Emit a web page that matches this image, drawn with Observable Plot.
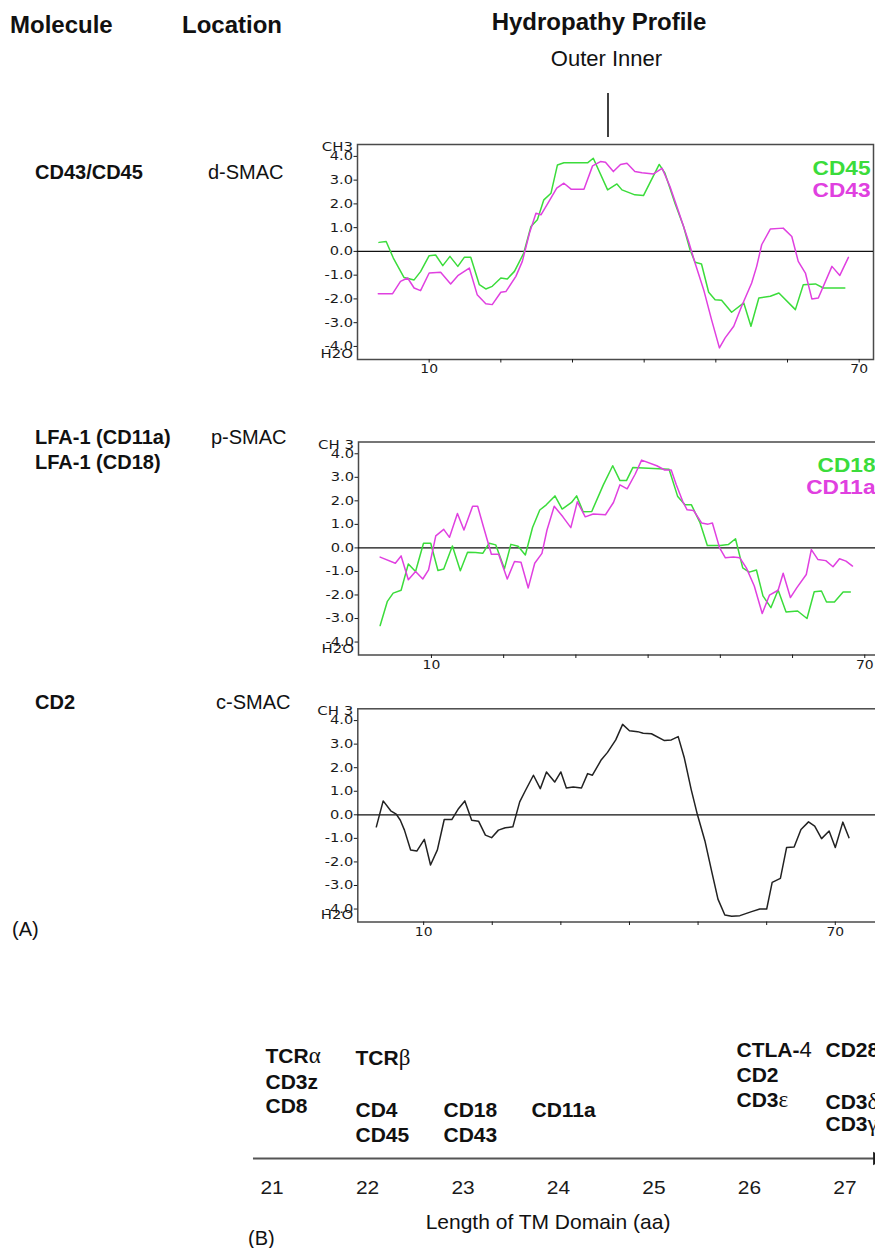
<!DOCTYPE html>
<html><head><meta charset="utf-8">
<script src="https://cdn.jsdelivr.net/npm/d3@7"></script>
<script src="https://cdn.jsdelivr.net/npm/@observablehq/plot@0.6"></script>
<style>
html,body{margin:0;padding:0;background:#fff;}
#page{position:relative;width:875px;height:1248px;overflow:hidden;font-family:"Liberation Sans",Arial,sans-serif;color:#111;}
.abs{position:absolute;}
</style></head><body><div id="page"></div>
<script>
// ---------- DATA ----------
// Panel 1: CD43 / CD45 hydropathy (residue, value)
const cd45Res = [3,4,5,6.5,7.9,8.8,10,10.9,11.9,12.9,14,14.9,15.8,17,17.9,18.8,20,20.9,21.9,23.2,24.2,25.1,26,27,27.9,28.8,32.1,32.9,34.9,36.2,36.9,38.7,39.9,42.1,42.9,44.3,45.5,46.4,47.1,48,49,49.9,50.8,52.2,53.9,54.9,56,57.6,58.8,61.1,62.2,63.9,65,68];
const cd45Val = [0.38,0.42,-0.28,-1.1,-1.2,-0.85,-0.18,-0.15,-0.6,-0.21,-0.63,-0.25,-0.25,-1.4,-1.58,-1.47,-1.12,-1.16,-0.84,-0.07,1.05,1.33,2.17,2.45,3.64,3.73,3.73,3.92,2.59,2.84,2.59,2.38,2.35,3.66,3.29,2.03,1.05,0.07,-0.46,-0.53,-1.72,-2.03,-2.06,-2.56,-2.17,-3.15,-1.96,-1.89,-1.75,-2.45,-1.40,-1.37,-1.54,-1.54];
const cd43Res = [2.9,4.9,6,7,7.9,8.8,10,11.6,13,14,15.6,16.7,17.9,18.8,20,20.7,22.1,23,24,24.9,25.6,26.7,27.8,28.8,29.8,31.6,32.8,33.9,34.6,35.7,36.7,37.6,38.7,39.7,41.3,42.5,43.6,44.8,46.2,47.1,48.3,49.4,50.5,51.3,52.5,53.6,55,55.7,56.4,57.6,59.4,60.6,61.5,62.5,63.4,64.3,66.2,67.3,68.5];
const cd43Val = [-1.78,-1.78,-1.26,-1.12,-1.54,-1.65,-0.91,-0.88,-1.37,-1.02,-0.7,-1.82,-2.2,-2.24,-1.72,-1.69,-1.05,-0.42,0.77,1.61,1.54,2.1,2.66,2.87,2.62,2.62,3.6,3.78,3.75,3.36,3.66,3.71,3.36,3.31,3.26,3.5,2.73,1.68,0.42,-0.49,-1.61,-2.87,-4.06,-3.64,-3.15,-2.31,-1.33,-0.63,0.28,0.94,0.98,0.63,-0.42,-0.91,-2.0,-1.96,-0.63,-1.01,-0.25];
// Panel 2: LFA-1 CD18 / CD11a
const cd18Res = [2.9,3.9,4.7,5.8,6.8,7.8,8.9,9.9,10.9,11.7,12.9,14,15,16.1,17.1,18,18.9,20.1,21,22,23,24,25,25.9,27.1,28.1,29.4,30.1,31,32.2,33.8,35.1,36.1,37,37.9,38.6,42.9,44.1,45.1,46,47.2,48.2,50,51.1,52.1,53.1,54,55,55.9,57,58,59.1,60.7,62,63,64,64.7,65.8,67,68];
const cd18Val = [-3.3,-2.27,-1.92,-1.8,-0.68,-1.0,0.2,0.2,-0.96,-0.9,0.08,-0.97,-0.18,-0.2,-0.23,0.2,0.13,-0.89,0.15,0.07,-0.3,0.87,1.61,1.83,2.21,1.65,1.93,2.21,1.54,1.55,2.68,3.49,2.86,2.86,3.42,3.41,3.34,2.18,1.83,1.83,1.06,0.1,0.1,0.14,0.39,-0.85,-1.03,-0.94,-2.04,-2.54,-1.79,-2.72,-2.68,-3.0,-1.86,-1.83,-2.3,-2.3,-1.87,-1.87];
const cd11aRes = [2.9,5,5.8,6.8,7.8,8.8,9.6,10.6,11.7,12.5,13.6,14.5,15.7,16.4,17.2,18.3,19.3,20.5,21.5,22.4,23.4,24.3,25.3,26,27,28.2,29.3,30.2,31.3,32.4,34.1,35.2,36.1,37.1,38.2,39.1,41.2,42.3,43.2,43.9,44.8,45.4,46.3,47.4,48.3,48.9,49.9,50.7,51.8,52.7,53.6,54.7,55.8,56.8,58,58.7,59.7,60.6,61.9,62.6,63.5,64.6,65.6,66.5,67.4,68.3];
const cd11aVal = [-0.39,-0.65,-0.34,-1.35,-1.0,-1.32,-0.93,0.51,0.79,0.45,1.46,0.76,1.77,1.77,0.9,-0.27,-0.27,-1.32,-0.58,-0.61,-1.7,-0.65,-0.23,0.76,1.77,1.32,0.86,1.96,1.32,1.44,1.41,1.93,2.68,2.51,3.13,3.73,3.49,3.31,3.31,2.68,1.97,1.62,1.59,1.06,1.01,1.06,0,-0.42,-0.39,-0.42,-0.85,-1.62,-2.79,-2.01,-1.8,-1.08,-2.11,-1.69,-1.13,-0.07,-0.49,-0.54,-0.8,-0.46,-0.56,-0.77];
// Panel 3: CD2
const cd2Res = [3.1,4.1,5.2,6,6.6,7.2,8.1,9,10.1,11,12,13,14.1,15.1,16,17,18,19,19.9,20.9,21.9,23,24,24.8,26,27,27.9,29.1,30,30.8,31.8,33,33.9,34.6,35.9,36.8,38,39,40,41.2,42,43.2,45.1,46.1,47.1,48,49,49.9,51,52,52.9,53.9,54.9,56.1,57.8,59,60,60.8,62,62.9,64,65,66.1,67,68,69.1,70,71.1,72];
const cd2Val = [-0.51,0.59,0.17,0.03,-0.23,-0.65,-1.49,-1.54,-1.04,-2.13,-1.49,-0.2,-0.2,0.27,0.59,-0.23,-0.27,-0.86,-0.97,-0.65,-0.55,-0.51,0.55,1.01,1.68,1.11,1.82,1.39,1.82,1.14,1.18,1.14,1.75,1.68,2.34,2.65,3.18,3.84,3.57,3.53,3.46,3.44,3.15,3.18,3.32,2.41,1.07,0.01,-1.11,-2.42,-3.58,-4.25,-4.31,-4.28,-4.11,-4.0,-4.0,-2.87,-2.7,-1.39,-1.37,-0.62,-0.3,-0.48,-1.01,-0.69,-1.39,-0.31,-0.97];
// Axis ticks
const yTicks = [-4,-3,-2,-1,0,1,2,3,4];
const xTicks = [10,20,30,40,50,60,70];
const xLabeled = [10,70];
// Panel B: TM domain lengths
const tmLength   = [21,21,21,22,22,22,23,23,24,26,26,26,27,27,27];
const tmMolecule = ["TCRα","CD3z","CD8","TCRβ","CD4","CD45","CD18","CD43","CD11a","CTLA-4","CD2","CD3ε","CD28","CD3δ","CD3γ"];
const tmTicks = [21,22,23,24,25,26,27];

// ---------- LAYOUT ----------
const GREEN = "#3bdc3b", MAGENTA = "#e040e0";
const page = document.getElementById("page");
const NS = "http://www.w3.org/2000/svg";
const table = (rs, vs) => rs.map((r, i) => ({res: r, val: vs[i]}));

function stretchWhere(svg, pred, sx) {
  svg.querySelectorAll("text").forEach(t => {
    if (pred(t)) t.setAttribute("transform", (t.getAttribute("transform") || "") + ` scale(${sx},1)`);
  });
}
const inGroup = (t, name) => t.parentNode && t.parentNode.getAttribute && t.parentNode.getAttribute("aria-label") === name;

function hydroPanel(o) {
  const legendNames = (o.legend || []).map(l => l.name);
  const marks = [
    Plot.frame({stroke: "#4a4a4a", strokeWidth: 1.5}),
    Plot.ruleY([0], {stroke: "#111", strokeWidth: 1.3}),
    Plot.axisY({ticks: yTicks, tickFormat: d => d.toFixed(1), tickSize: 3.5, tickPadding: 1, label: null, fontSize: 12}),
    Plot.axisX({ticks: xTicks, tickFormat: d => xLabeled.includes(d) ? String(d) : "", tickSize: 3.5, tickPadding: 1.5, label: null, fontSize: 12}),
    ...o.series.map(s => Plot.line(s.data, {x: "res", y: "val", stroke: s.color, strokeWidth: 1.5, strokeLinejoin: "round"})),
    Plot.text([o.ch3], {text: d => d, frameAnchor: "top-left", textAnchor: "end", dx: -4.5, dy: o.ch3dy, fontSize: 13}),
    Plot.text(["H2O"], {text: d => d, frameAnchor: "bottom-left", textAnchor: "end", dx: -4.5, dy: o.h2ody, fontSize: 13})
  ];
  (o.legend || []).forEach(l => marks.push(
    Plot.text([l.name], {text: d => d, frameAnchor: "top-right", textAnchor: "end", dx: -3, dy: l.dy, fill: l.color, fontWeight: "bold", fontSize: 21, fontFamily: "Liberation Sans, Arial, sans-serif"})
  ));
  const svg = Plot.plot({
    width: o.box.w, height: o.box.h,
    marginLeft: o.box.ml, marginRight: o.box.mr, marginTop: o.box.mt, marginBottom: o.box.mb,
    style: {fontFamily: "DejaVu Sans, sans-serif", fontSize: "12px", background: "transparent", color: "#1a1a1a", overflow: "visible"},
    x: {domain: o.xDomain},
    y: {domain: [-4.55, 4.5]},
    marks
  });
  stretchWhere(svg, t => inGroup(t, "y-axis tick label"), 1.22);
  stretchWhere(svg, t => t.textContent === o.ch3 || t.textContent === "H2O", 1.15);
  stretchWhere(svg, t => inGroup(t, "x-axis tick label"), 1.16);
  stretchWhere(svg, t => legendNames.includes(t.textContent), 1.08);
  svg.classList.add("abs");
  svg.style.left = o.box.x + "px";
  svg.style.top = o.box.y + "px";
  page.appendChild(svg);
}

// Overlay texts (headers, row labels)
const overlay = document.createElementNS(NS, "svg");
overlay.setAttribute("width", 875); overlay.setAttribute("height", 1248);
overlay.classList.add("abs"); overlay.style.left = "0px"; overlay.style.top = "0px";
page.appendChild(overlay);
function label(txt, x, y, size, bold, anchor) {
  const t = document.createElementNS(NS, "text");
  t.setAttribute("x", x); t.setAttribute("y", y);
  t.setAttribute("font-size", size);
  t.setAttribute("font-family", "Liberation Sans, Arial, sans-serif");
  if (bold) t.setAttribute("font-weight", "bold");
  if (anchor) t.setAttribute("text-anchor", anchor);
  t.setAttribute("fill", "#111");
  t.textContent = txt;
  overlay.appendChild(t);
}
label("Molecule", 10, 33, 24, true);
label("Location", 182, 33, 24, true);
label("Hydropathy Profile", 599, 30, 24, true, "middle");
label("Outer Inner", 606.5, 66, 22, false, "middle");
const vline = document.createElementNS(NS, "line");
vline.setAttribute("x1", 608); vline.setAttribute("x2", 608);
vline.setAttribute("y1", 93); vline.setAttribute("y2", 137);
vline.setAttribute("stroke", "#111"); vline.setAttribute("stroke-width", 1.6);
overlay.appendChild(vline);
label("CD43/CD45", 35, 179, 20, true);
label("d-SMAC", 208, 179, 20, false);
label("LFA-1 (CD11a)", 35, 444, 20, true);
label("LFA-1 (CD18)", 35, 469, 20, true);
label("p-SMAC", 211, 444, 20, false);
label("CD2", 35, 709, 20, true);
label("c-SMAC", 216, 709, 20, false);
label("(A)", 12, 936, 20, false);
label("(B)", 248, 1245, 20, false);

// Panels (A)
hydroPanel({
  box: {x: 300, y: 120, w: 580, h: 262, ml: 57, mr: 7, mt: 24, mb: 23},
  xDomain: [0, 72],
  series: [{data: table(cd45Res, cd45Val), color: GREEN}, {data: table(cd43Res, cd43Val), color: MAGENTA}],
  ch3: "CH3", ch3dy: -3, h2ody: -2,
  legend: [{name: "CD45", color: GREEN, dy: 15.5}, {name: "CD43", color: MAGENTA, dy: 37.5}]
});
hydroPanel({
  box: {x: 300, y: 418, w: 582, h: 258, ml: 58, mr: 4, mt: 23.5, mb: 21.5},
  xDomain: [-0.1, 71.9],
  series: [{data: table(cd18Res, cd18Val), color: GREEN}, {data: table(cd11aRes, cd11aVal), color: MAGENTA}],
  ch3: "CH 3", ch3dy: -2.5, h2ody: -2,
  legend: [{name: "CD18", color: GREEN, dy: 15}, {name: "CD11a", color: MAGENTA, dy: 37}]
});
hydroPanel({
  box: {x: 300, y: 685, w: 582, h: 262, ml: 57.3, mr: 4, mt: 23.3, mb: 25.5},
  xDomain: [0.4, 76.3],
  series: [{data: table(cd2Res, cd2Val), color: "#222"}],
  ch3: "CH 3", ch3dy: -3, h2ody: -3
});

// Panel (B)
const rowOf = {"TCRα":0,"CD3z":1.04,"CD8":2.01,"TCRβ":0.08,"CD4":2.17,"CD45":3.17,"CD18":2.18,"CD43":3.18,"CD11a":2.18,"CTLA-4":-0.24,"CD2":0.76,"CD3ε":1.76,"CD28":-0.24,"CD3δ":1.85,"CD3γ":2.75};
const colNudge = {21: -6.5, 22: -12, 23: -19.5, 24: -27, 26: -13, 27: -19.5};
const axisRow = 4.1;
const tmTable = tmMolecule.map((m, i) => ({name: m, len: tmLength[i]}));
const svgB = Plot.plot({
  width: 655, height: 220,
  marginLeft: 0, marginRight: 0, marginTop: 0, marginBottom: 92,
  x: {domain: [20.4607, 27.3194]},
  y: {domain: [0, 4], range: [25.5, 125.5], axis: null},
  style: {fontFamily: "Liberation Sans, Arial, sans-serif", fontSize: "18px", background: "transparent", color: "#1a1a1a", overflow: "visible"},
  marks: [
    Plot.ruleY([axisRow], {x1: 20.806, x2: 27.32, stroke: "#555", strokeWidth: 2}),
    Plot.dot([axisRow], {x: 27.335, y: d => d, symbol: "triangle", rotate: 90, r: 5, fill: "#1a1a1a", stroke: "none"}),
    Plot.axisX({ticks: tmTicks, tickFormat: d => String(d), tickSize: 0, tickPadding: 22, label: null, fontSize: 19}),
    ...Object.keys(colNudge).map(len => Plot.text(tmTable.filter(d => d.len === +len), {
      x: "len", y: d => rowOf[d.name], text: "name", textAnchor: "start", dx: colNudge[len],
      fontWeight: "bold", fontSize: 21, fill: "#111"})),
    Plot.text(["Length of TM Domain (aa)"], {text: d => d, frameAnchor: "bottom", dy: 70, fontSize: 21, fill: "#111"})
  ]
});
stretchWhere(svgB, t => inGroup(t, "x-axis tick label"), 1.1);
svgB.querySelectorAll("text").forEach(t => {
  const s = t.textContent;
  let m = s.match(/^(.+)([\u0370-\u03ff])$/), family = "Liberation Serif, serif", size = "23";
  if (!m) { m = s.match(/^(.+-)(4)$/); family = "Liberation Sans, Arial, sans-serif"; size = "22"; }
  if (m) {
    t.textContent = m[1];
    const ts = document.createElementNS(NS, "tspan");
    ts.setAttribute("font-weight", "normal");
    ts.setAttribute("font-family", family);
    ts.setAttribute("font-size", size);
    ts.textContent = m[2];
    t.appendChild(ts);
  }
});
svgB.classList.add("abs");
svgB.style.left = "220px"; svgB.style.top = "1030px";
page.appendChild(svgB);
</script>
</body></html>
